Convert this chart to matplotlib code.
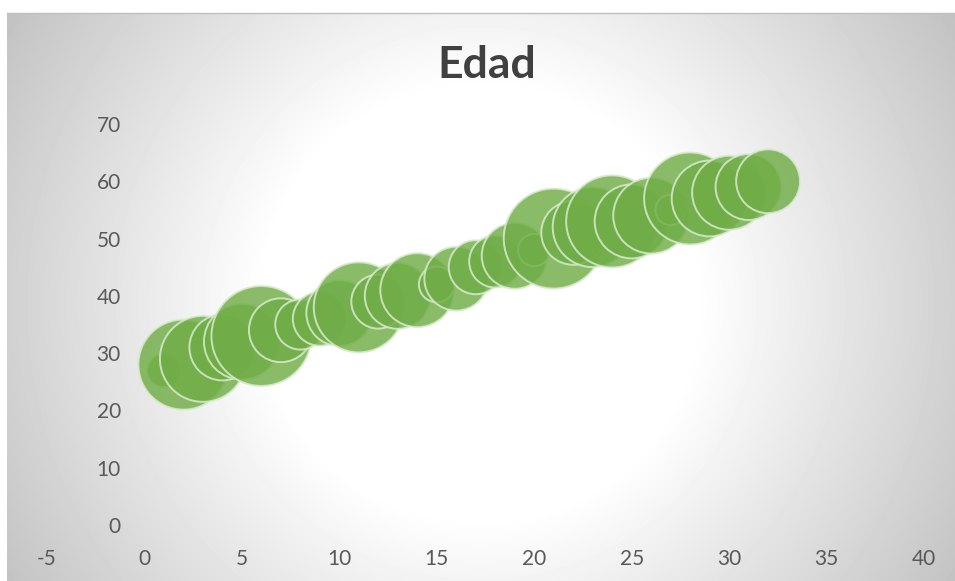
import numpy as np
import matplotlib.pyplot as plt

# bubble data
edad_x = [1, 2, 3, 4, 5, 6, 7, 8, 9, 10, 11, 12, 13, 14, 15, 16,
          17, 18, 19, 20, 21, 22, 23, 24, 25, 26, 27, 28, 29, 30, 31, 32]
edad_y = [27, 28, 29, 31, 32, 33, 34, 35, 36, 37, 38, 39, 40, 41, 42, 43,
          45, 46, 47, 48, 50, 51, 52, 53, 53, 54, 55, 57, 57, 58, 59, 60]
edad_size = [2.9, 20.3, 18.5, 10.9, 14.4, 25, 10.2, 6.3, 7.3, 10.9, 20.3, 7.3, 10.9, 13.7, 3.2, 10.2,
             7.3, 6.8, 10.9, 2.6, 25, 10.2, 16, 21.2, 13.7, 14.4, 2.3, 21.2, 14.4, 13.7, 10.9, 10.2]
x_ticks = [-5, 0, 5, 10, 15, 20, 25, 30, 35, 40]
y_ticks = [0, 10, 20, 30, 40, 50, 60, 70]

W, H = 955, 581
fig = plt.figure(figsize=(W / 100, H / 100), dpi=100)
fig.patch.set_facecolor('white')

# radial grey gradient behind the chart area
bg = fig.add_axes([7 / W, 0, 1 - 7 / W, (H - 13) / H])
px, py = np.meshgrid(np.arange(W - 7), np.arange(H - 13))
d = np.hypot(px - 473, py - 290)
shade = 1 - 0.24 * np.clip((d - 215) / 340, 0, 1)
bg.imshow(shade, cmap='gray', vmin=0, vmax=1, aspect='auto', interpolation='bilinear')
bg.axis('off')
fig.add_artist(plt.Line2D([7 / W, 1], [(H - 13) / H] * 2, color='#bfbfbf', lw=1))

ax = fig.add_axes([47 / W, (H - 525) / H, (924 - 47) / W, (525 - 124) / H])
ax.set_facecolor('none')
ax.set_xlim(-5, 40)
ax.set_ylim(0, 70)

s = [207 * v for v in edad_size]
ax.scatter(edad_x, edad_y, s=s, facecolor=(0.439, 0.678, 0.278, 0.82),
           edgecolor=(0.85, 0.92, 0.81, 0.85), linewidth=1.4, zorder=3)

font = ['Lato', 'DejaVu Sans']
ax.spines['left'].set_position(('data', 0))
for sp in ax.spines.values():
    sp.set_visible(False)
ax.set_xticks(x_ticks)
ax.set_yticks(y_ticks)
ax.set_xticklabels([str(t) for t in x_ticks], family=font, fontsize=15, color='#595959')
ax.set_yticklabels([str(t) for t in y_ticks], family=font, fontsize=15, color='#595959')
ax.tick_params(axis='x', length=0, pad=17)
ax.tick_params(axis='y', length=0, pad=17)

fig.text(487 / W, 1 - 65 / H, 'Edad', ha='center', va='center',
         family=font, fontsize=32, fontweight='bold', color='#404040')

fig.savefig('out.png', dpi=100)
